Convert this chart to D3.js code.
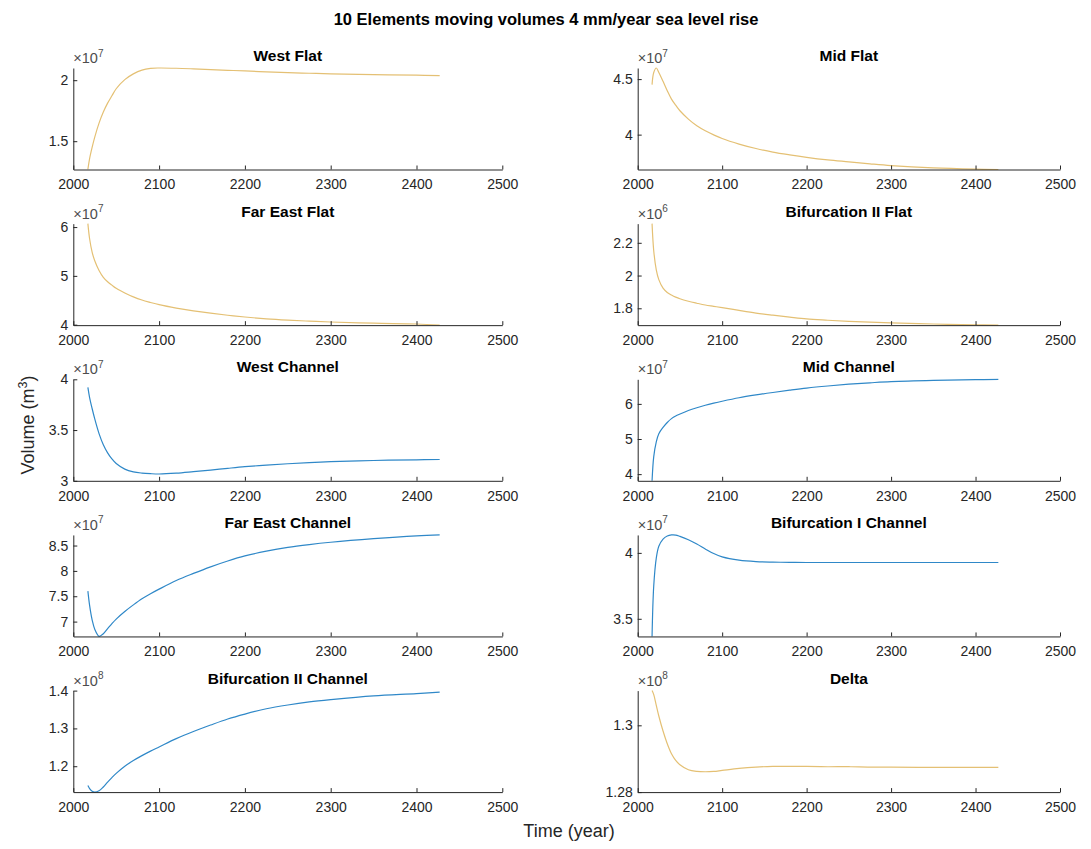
<!DOCTYPE html>
<html>
<head>
<meta charset="utf-8">
<script src="https://cdn.jsdelivr.net/npm/d3@7"></script>
<style>
  body { margin: 0; background: #fff; }
  text { font-family: "Liberation Sans", Arial, Helvetica, sans-serif; }
</style>
</head>
<body>
<svg id="fig" width="1091" height="849"></svg>
<script>
// Simulation output years
const years = [2017, 2019, 2022, 2025, 2030, 2035, 2040, 2045, 2050, 2060, 2070, 2080, 2090,
               2100, 2120, 2140, 2160, 2180, 2200, 2225, 2250, 2275, 2300, 2350, 2400, 2427];

// Element volumes, in units of 10^exponent m^3
const westFlat       = [1.27, 1.358, 1.452, 1.534, 1.648, 1.739, 1.812, 1.872, 1.93, 2.005, 2.052, 2.083, 2.097,
                        2.1, 2.098, 2.093, 2.087, 2.081, 2.076, 2.068, 2.062, 2.057, 2.052, 2.046, 2.041, 2.037];
const midFlat        = [4.45, 4.56, 4.6, 4.56, 4.48, 4.395, 4.32, 4.265, 4.215, 4.14, 4.08, 4.035, 3.998,
                        3.965, 3.915, 3.875, 3.843, 3.818, 3.796, 3.773, 3.755, 3.737, 3.721, 3.70, 3.689, 3.686];
const farEastFlat    = [6.07, 5.76, 5.48, 5.31, 5.11, 4.97, 4.88, 4.81, 4.745, 4.65, 4.57, 4.505, 4.455,
                        4.41, 4.34, 4.283, 4.235, 4.193, 4.157, 4.12, 4.093, 4.072, 4.055, 4.03, 4.014, 3.993];
const bif2Flat       = [2.317, 2.15, 2.035, 1.975, 1.923, 1.897, 1.881, 1.868, 1.858, 1.843, 1.831, 1.82, 1.812,
                        1.804, 1.787, 1.771, 1.758, 1.746, 1.735, 1.727, 1.72, 1.715, 1.711, 1.704, 1.699, 1.697];
const westChannel    = [3.92, 3.82, 3.71, 3.61, 3.465, 3.355, 3.275, 3.215, 3.17, 3.115, 3.088, 3.076, 3.07,
                        3.067, 3.075, 3.09, 3.106, 3.123, 3.139, 3.155, 3.168, 3.18, 3.189, 3.2, 3.207, 3.21];
const midChannel     = [3.81, 4.5, 4.92, 5.15, 5.33, 5.47, 5.58, 5.655, 5.71, 5.81, 5.89, 5.96, 6.02,
                        6.075, 6.175, 6.255, 6.325, 6.39, 6.45, 6.51, 6.56, 6.6, 6.635, 6.67, 6.69, 6.70];
const farEastChannel = [7.6, 7.32, 7.03, 6.85, 6.71, 6.76, 6.86, 6.96, 7.05, 7.2, 7.33, 7.45, 7.55,
                        7.64, 7.81, 7.95, 8.08, 8.195, 8.295, 8.39, 8.465, 8.52, 8.565, 8.635, 8.69, 8.709];
const bif1Channel    = [3.366, 3.75, 3.96, 4.05, 4.105, 4.128, 4.136, 4.135, 4.125, 4.1, 4.068, 4.03, 3.995,
                        3.97, 3.945, 3.934, 3.93, 3.928, 3.927, 3.927, 3.927, 3.927, 3.927, 3.927, 3.927, 3.927];
const bif2Channel    = [1.149, 1.141, 1.134, 1.1316, 1.135, 1.145, 1.158, 1.17, 1.181, 1.2, 1.215, 1.228, 1.24,
                        1.251, 1.273, 1.292, 1.309, 1.325, 1.338, 1.352, 1.362, 1.37, 1.376, 1.386, 1.392, 1.396];
const delta          = [1.3104, 1.3092, 1.306, 1.3028, 1.2983, 1.2945, 1.2915, 1.2895, 1.2882, 1.2867, 1.2862, 1.2861, 1.2862,
                        1.2865, 1.2871, 1.2875, 1.2877, 1.2877, 1.2877, 1.2876, 1.2876, 1.2875, 1.2875, 1.2874, 1.2874, 1.2874];

// Panel metadata (row-major, two columns)
const panelTitles = ["West Flat", "Mid Flat", "Far East Flat", "Bifurcation II Flat", "West Channel",
                     "Mid Channel", "Far East Channel", "Bifurcation I Channel", "Bifurcation II Channel", "Delta"];
const panelSeries = [westFlat, midFlat, farEastFlat, bif2Flat, westChannel,
                     midChannel, farEastChannel, bif1Channel, bif2Channel, delta];
const panelKind   = ["flat", "flat", "flat", "flat", "channel", "channel", "channel", "channel", "channel", "flat"];
const exponents   = [7, 7, 7, 6, 7, 7, 7, 7, 8, 8];
const yLimits = [[1.268, 2.1], [3.686, 4.6], [3.99, 6.07], [1.697, 2.317], [3, 4],
                 [3.81, 6.70], [6.707, 8.709], [3.366, 4.136], [1.1316, 1.4], [1.28, 1.3104]];
const yTicks  = [[1.5, 2], [4, 4.5], [4, 5, 6], [1.8, 2, 2.2], [3, 3.5, 4],
                 [4, 5, 6], [7, 7.5, 8, 8.5], [3.5, 4], [1.2, 1.3, 1.4], [1.28, 1.3]];
const xLimits = [2000, 2500];
const xTicks  = [2000, 2100, 2200, 2300, 2400, 2500];

const figTitle = "10 Elements moving volumes 4 mm/year sea level rise";
const xLabel = "Time (year)";

// Layout
const colLeft = [73.3, 637.7];
const colWidth = [429, 422.3];
const rowTop0 = 68, rowPitch = 155.65, axH = 101.5;
const axisColor = "#262626";
const lineColor = { flat: "#e4c074", channel: "#2f88c8" };

const svg = d3.select("#fig");

svg.append("text")
  .attr("x", 546).attr("y", 25)
  .attr("text-anchor", "middle")
  .attr("font-size", 16.5).attr("font-weight", "bold").attr("fill", "#000")
  .text(figTitle);

panelTitles.forEach((title, i) => {
  const col = i % 2, row = Math.floor(i / 2);
  const x0 = colLeft[col], y0 = rowTop0 + row * rowPitch, w = colWidth[col];
  const g = svg.append("g").attr("transform", `translate(${x0},${y0})`);

  const x = d3.scaleLinear().domain(xLimits).range([0, w]);
  const y = d3.scaleLinear().domain(yLimits[i]).range([axH, 0]);

  const clipId = "clip" + i;
  g.append("clipPath").attr("id", clipId)
    .append("rect").attr("x", 0).attr("y", -1).attr("width", w).attr("height", axH + 2);

  const pts = years.map((yr, k) => [yr, panelSeries[i][k]]);
  const line = d3.line()
    .x(d => x(d[0])).y(d => y(d[1]))
    .curve(d3.curveCatmullRom.alpha(0.5));

  g.append("path")
    .datum(pts)
    .attr("clip-path", `url(#${clipId})`)
    .attr("fill", "none")
    .attr("stroke", lineColor[panelKind[i]])
    .attr("stroke-width", 1.2)
    .attr("d", line);

  const xAxis = d3.axisBottom(x).tickValues(xTicks).tickFormat(d3.format("d"))
    .tickSizeInner(-4).tickSizeOuter(0).tickPadding(10);
  const yAxis = d3.axisLeft(y).tickValues(yTicks[i]).tickFormat(d => String(d))
    .tickSizeInner(-4).tickSizeOuter(0).tickPadding(5);

  const gx = g.append("g").attr("transform", `translate(0,${axH})`).call(xAxis);
  const gy = g.append("g").call(yAxis);
  [gx, gy].forEach(a => {
    a.select(".domain").attr("stroke", axisColor).attr("stroke-width", 1);
    a.selectAll(".tick line").attr("stroke", axisColor);
    a.selectAll(".tick text").attr("fill", axisColor)
      .attr("font-size", 14)
      .attr("font-family", '"Liberation Sans", Arial, Helvetica, sans-serif');
  });

  // exponent multiplier above the y axis
  const ex = g.append("text").attr("x", 0).attr("y", -5)
    .attr("font-size", 14.5).attr("fill", "#4d4d4d");
  ex.append("tspan").text("×10");
  ex.append("tspan").attr("dy", -6.5).attr("font-size", 10).text(exponents[i]);

  g.append("text")
    .attr("x", w / 2).attr("y", -7)
    .attr("text-anchor", "middle")
    .attr("font-size", 15.5).attr("font-weight", "bold").attr("fill", "#000")
    .text(title);
});

// shared axis labels
svg.append("text")
  .attr("x", 569).attr("y", 837)
  .attr("text-anchor", "middle")
  .attr("font-size", 18).attr("fill", axisColor)
  .text(xLabel);

const yl = svg.append("text")
  .attr("transform", "translate(34,425) rotate(-90)")
  .attr("text-anchor", "middle")
  .attr("font-size", 18).attr("fill", axisColor);
yl.append("tspan").text("Volume (m");
yl.append("tspan").attr("dy", -7.5).attr("font-size", 12.5).text("3");
yl.append("tspan").attr("dy", 7.5).text(")");
</script>
</body>
</html>
